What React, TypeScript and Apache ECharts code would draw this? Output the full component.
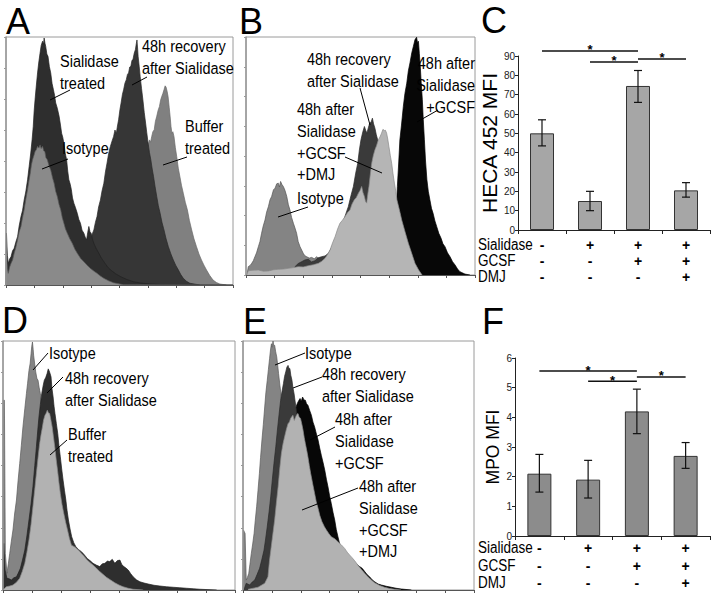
import React, { useEffect, useRef } from "react";
import * as echarts from "echarts";

const FONT = "'Liberation Sans', Arial, Helvetica, sans-serif";

// ---------- Bar panels (C, F) ----------
const conditions = ["Sialidase", "GCSF", "DMJ"];
const groupFlags = [
  ["-", "-", "-"],
  ["+", "-", "-"],
  ["+", "+", "-"],
  ["+", "+", "+"],
];
const hecaMean = [50, 15, 74.5, 20.5];
const hecaLow = [43.5, 10, 66, 17];
const hecaHigh = [57, 20, 82.5, 24.5];
const hecaSig = [
  [0, 2, 92.6],
  [1, 2, 86.9],
  [2, 3, 88.5],
];
const mpoMean = [2.1, 1.9, 4.2, 2.7];
const mpoLow = [1.48, 1.28, 3.45, 2.28];
const mpoHigh = [2.75, 2.55, 4.95, 3.15];
const mpoSig = [
  [0, 2, 5.56],
  [1, 2, 5.22],
  [2, 3, 5.36],
];

// ---------- Histogram panels (x: channel %, y: % of max count) ----------
const aSialidase = [[0,0],[0.2,20.9],[0.6,12],[1.0,8.7],[1.6,10.5],[2.2,11.4],[2.9,13.8],[3.6,14.8],[4.3,17.2],[5.1,19.5],[5.8,23.8],[6.6,27.6],[7.3,30.1],[8.0,34.3],[8.7,37.5],[9.5,42.4],[10.2,47.8],[10.9,53.2],[11.5,58.6],[12.0,63.9],[12.4,70.1],[12.8,74.7],[13.3,79.8],[13.9,85.5],[14.4,89.5],[15.0,93.5],[15.5,96.6],[16.1,98.3],[16.5,97.1],[16.8,99.6],[17.2,97.4],[17.5,96.2],[18.0,93.1],[18.5,92.2],[19.1,88.1],[19.7,85.5],[20.3,81.2],[20.9,78.7],[21.4,76.5],[21.9,73.4],[22.6,71.3],[23.4,68.0],[24.0,64.5],[24.5,61.2],[25.0,59.6],[25.5,57.2],[26.1,53.1],[26.7,50.5],[27.2,45.9],[27.7,42.4],[28.3,40.6],[28.8,38.4],[29.3,35.1],[29.9,33.0],[30.6,31.2],[31.4,28.9],[32.1,26.4],[32.8,24.9],[33.5,22.1],[34.3,20.9],[34.9,19.3],[35.5,18.2],[36.0,21.2],[36.5,23.6],[37.0,21.5],[37.5,20.9],[38.1,18.4],[38.7,16.8],[39.8,14.6],[40.9,12.8],[42.0,10.9],[43.1,9.4],[44.6,7.5],[46.0,6.1],[48.2,4.6],[50.4,3.4],[53.3,2.2],[56.2,1.3],[60,0.7],[63.5,0.4],[70,0.1],[100,0]];
const aIsotype = [[0,0],[0.2,12.8],[0.6,6.5],[1.0,4.7],[1.6,7.2],[2.2,8.7],[2.9,10.1],[3.6,12.8],[4.3,15.0],[5.1,18.2],[5.8,21.4],[6.6,23.6],[7.3,27.2],[8.0,30.3],[8.8,34.9],[9.5,38.4],[10.1,41.9],[10.7,45.1],[11.2,48.4],[11.7,50.5],[12.3,52.2],[12.8,53.8],[13.4,54.6],[13.9,55.9],[14.5,55.2],[15.0,56.5],[15.5,55.0],[16.1,55.9],[16.6,54.1],[17.1,53.8],[17.6,51.3],[18.2,50.5],[19.0,47.9],[19.7,46.4],[20.5,43.2],[21.2,41.0],[21.9,37.7],[22.6,35.7],[23.4,32.4],[24.1,30.3],[24.8,27.1],[25.5,24.9],[26.2,22.6],[27.0,20.9],[28.1,18.6],[29.2,16.8],[30.3,14.5],[31.4,12.8],[32.9,10.7],[34.3,9.4],[35.8,7.9],[37.2,6.7],[38.7,5.6],[40.1,4.7],[41.6,3.6],[43.1,2.7],[45.2,1.7],[47.4,0.9],[51.8,0.1],[100,0]];
const aRecovery = [[30.5,0],[31.4,0.8],[32.5,2.6],[33.6,4.7],[34.3,6.9],[35.0,8.7],[35.5,11.2],[36.1,12.8],[36.7,15.9],[37.2,18.2],[38.0,20.6],[38.7,22.2],[39.4,25.3],[40.1,27.6],[40.8,31.5],[41.6,34.3],[42.3,37.9],[43.1,41.0],[43.8,45.6],[44.5,49.1],[45.2,52.9],[46.0,55.9],[46.7,58.0],[47.4,59.9],[48.0,62.5],[48.6,61.2],[49.1,64.1],[49.6,66.6],[50.2,70.8],[50.7,73.4],[51.3,76.9],[51.8,78.7],[52.4,81.4],[53.0,82.8],[53.5,84.9],[54.0,85.5],[54.5,87.9],[55.0,88.2],[55.5,90.6],[55.9,90.8],[56.5,93.5],[57.0,94.9],[57.4,97.3],[57.7,98.8],[58.0,95.1],[58.2,92.2],[58.7,88.0],[59.1,84.1],[59.7,79.3],[60.3,74.7],[60.9,69.6],[61.5,65.3],[62.0,61.5],[62.6,57.2],[63.2,53.4],[63.8,50.5],[64.4,46.8],[65.0,43.7],[65.7,39.5],[66.4,35.7],[67.1,32.0],[67.9,28.9],[68.7,25.3],[69.6,22.2],[70.5,18.7],[71.5,15.5],[72.6,12.6],[73.7,10.1],[74.8,7.9],[75.9,6.1],[77.0,4.2],[78.1,2.7],[79.5,1.5],[81.0,0.7],[85.4,0]];
const aBuffer = [[34.3,0],[38.0,1.2],[41.6,2.7],[44.5,4.8],[47.4,7.4],[50.4,12.0],[53.3,18.2],[55.5,24.5],[57.7,31.6],[59.2,38.5],[60.6,45.1],[61.3,49.8],[62.0,53.2],[62.6,56.5],[63.2,58.5],[63.7,57.6],[64.2,59.9],[64.7,61.8],[65.3,62.6],[65.8,65.9],[66.4,68.0],[67.0,70.4],[67.6,72.0],[68.1,74.5],[68.6,76.0],[69.1,77.2],[69.6,78.7],[70.1,80.3],[70.5,79.8],[71.0,78.0],[71.4,76.0],[71.9,71.6],[72.3,68.0],[72.7,63.8],[73.1,61.2],[73.5,61.8],[74.0,59.9],[74.6,55.4],[75.2,51.8],[75.9,47.1],[76.6,43.7],[77.3,40.2],[78.1,37.0],[79.0,33.3],[79.9,30.3],[80.8,26.0],[81.8,22.2],[82.8,18.6],[83.9,15.5],[85.0,12.5],[86.1,10.1],[87.2,8.0],[88.3,6.1],[89.7,3.9],[91.2,2.0],[92.7,1.0],[94.2,0.4],[97.1,0]];

const bGcsf = [[63.8,0],[64.5,6.0],[65.1,17.5],[65.6,27],[66.1,37.2],[66.7,47.5],[67.2,56.8],[67.9,63.0],[68.7,70.8],[69.4,76.3],[70.2,80.6],[70.9,85.8],[71.6,89.1],[72.4,93.4],[73.1,96.1],[73.8,98.9],[74.5,99.9],[74.9,97.6],[75.3,98.2],[75.7,93.0],[76.1,87.7],[76.5,81.0],[77.0,73.6],[77.4,65.5],[77.9,56.8],[78.4,47.9],[79.0,40.0],[79.6,35.2],[80.3,31.6],[81.0,28.0],[81.7,25.9],[82.5,22.7],[83.3,20.3],[84.2,17.5],[85.2,15.4],[86.0,13.1],[86.9,11.9],[88.0,9.3],[89.1,7.7],[90.2,5.6],[91.3,4.2],[92.4,2.5],[93.4,1.4],[95.6,0.4],[97.8,0]];
const bIsotype = [[0.4,0],[1.0,3.5],[1.8,4.0],[2.5,4.9],[3.2,6.0],[3.9,7.7],[4.6,9.3],[5.4,11.9],[6.1,14.1],[6.8,17.5],[7.5,20.5],[8.3,23.1],[9.0,26.4],[9.8,28.8],[10.5,31.6],[11.2,33.0],[12.0,35.8],[12.7,36.5],[13.4,38.3],[14.1,38.6],[14.6,37.0],[15.1,39.3],[15.7,38.0],[16.3,37.2],[17.0,35.6],[17.8,33.0],[18.5,29.5],[19.2,27.3],[19.9,24.2],[20.7,21.7],[21.4,19.7],[22.1,17.5],[22.8,14.0],[23.6,11.9],[24.3,10.5],[25.0,9.1],[25.7,8.1],[26.5,7.7],[27.6,7.1],[28.7,7.4],[29.8,6.8],[30.9,7.7],[32.0,6.7],[33.0,7.0],[34.1,5.6],[35.2,4.2],[36.7,3.0],[38.1,2.1],[40.0,1.3],[41.8,0.7],[44.7,0]];
const bRecovery = [[19.9,0],[21.4,3.5],[22.8,4.8],[24.3,5.6],[25.7,6.3],[27.2,6.6],[28.6,5.5],[30.1,6.0],[31.5,7.2],[33.0,7.7],[34.5,8.0],[36.0,9.1],[37.4,11.6],[38.9,14.7],[40.3,17.2],[41.8,20.3],[43.2,24.6],[44.7,28.8],[45.8,33.2],[46.9,37.2],[47.9,42.8],[48.8,47.0],[49.5,52.5],[50.2,56.8],[51.0,60.1],[51.7,62.4],[52.3,60.7],[52.8,59.6],[53.4,61.8],[54.0,63.8],[54.6,64.2],[55.2,65.9],[55.7,63.5],[56.3,61.7],[56.9,58.9],[57.5,56.8],[58.1,55.6],[58.7,54.0],[59.7,49.6],[60.7,45.6],[62.2,40.0],[63.6,34.4],[65.0,28.8],[66.5,23.1],[68.0,18.0],[69.4,13.3],[71.2,8.9],[73.1,4.9],[74.9,2.0],[76.7,0]];
const bDmj = [[0.3,0],[1.0,1.8],[3.2,2.0],[5.4,2.1],[7.6,1.6],[9.8,1.7],[12.0,2.2],[14.1,2.4],[16.3,2.5],[18.5,2.8],[20.7,3.1],[22.9,3.5],[25.0,3.4],[27.2,3.9],[29.4,4.3],[31.6,4.9],[33.1,5.8],[34.5,7.0],[35.6,8.6],[36.7,10.5],[37.8,13.5],[38.9,16.1],[40.0,19.3],[41.0,21.7],[42.1,23.0],[43.2,24.5],[44.3,26.2],[45.4,27.3],[46.3,29.8],[47.3,31.6],[48.2,32.6],[49.1,34.4],[49.8,35.5],[50.5,37.2],[51.1,34.6],[51.7,33.0],[52.2,30.9],[52.7,30.2],[53.2,34.0],[53.7,37.2],[54.3,42.4],[54.9,47.0],[55.6,50.2],[56.3,52.6],[57.0,54.3],[57.8,56.8],[58.5,58.0],[59.2,59.6],[59.8,61.2],[60.4,60.7],[60.9,60.8],[61.4,59.6],[61.9,57.1],[62.4,54.0],[63.0,50.3],[63.6,47.0],[64.2,42.5],[64.8,38.6],[65.4,35.2],[65.9,31.6],[67.0,27.3],[68.0,23.1],[69.5,18.0],[70.9,13.3],[72.4,9.0],[73.8,4.9],[75.4,2.1],[76.9,0]];

const dIsotype = [[0,0],[0.1,76.2],[0.6,76.2],[1.0,14.7],[1.7,6.7],[2.3,10.5],[2.9,14.7],[3.6,19.6],[4.3,24.1],[5.0,30.5],[5.8,36.1],[6.5,43.9],[7.2,50.8],[7.9,58.0],[8.6,65.5],[9.4,72.8],[10.1,78.9],[10.6,83.0],[11.2,88.2],[11.7,91.0],[12.1,94.9],[12.4,97.9],[12.7,99.6],[13.0,96.6],[13.2,94.3],[13.7,90.5],[14.1,87.6],[14.6,85.0],[15.1,84.2],[15.6,81.2],[16.1,78.9],[16.7,74.8],[17.3,70.9],[18.0,65.5],[18.7,60.2],[19.4,54.9],[20.1,49.5],[20.9,43.8],[21.6,38.8],[22.6,32.2],[23.7,26.7],[24.8,22.3],[25.9,18.7],[27.3,15.1],[28.8,12.0],[30.9,9.0],[33.1,6.7],[36.0,4.5],[38.8,2.7],[42.4,1.3],[46.0,0.5],[53.2,0]];
const dRecovery = [[0,0],[0.3,18.7],[0.9,8.0],[1.7,4.7],[2.6,4.5],[3.6,4.0],[4.7,4.9],[5.8,5.3],[6.6,6.8],[7.5,8.7],[8.4,12.0],[9.4,16.0],[10.3,21.7],[11.2,28.1],[12.1,34.6],[12.9,41.4],[13.7,50.0],[14.4,57.5],[15.0,64.3],[15.5,69.5],[16.1,74.5],[16.7,78.9],[17.3,82.0],[17.8,84.2],[18.4,85.3],[19.0,86.9],[19.5,88.8],[19.9,88.0],[20.3,86.9],[20.7,85.6],[21.1,81.0],[21.6,77.5],[22.0,73.8],[22.4,70.9],[23.0,66.8],[23.6,62.8],[24.1,58.1],[24.7,53.5],[25.3,48.6],[25.9,44.1],[26.5,40.0],[27.1,36.1],[27.6,32.0],[28.2,28.1],[28.9,24.5],[29.6,21.4],[30.5,19.0],[31.4,17.4],[32.6,16.2],[33.8,15.4],[35.0,14.2],[36.3,12.7],[37.5,11.8],[38.8,10.7],[40.2,10.0],[41.7,9.4],[42.8,10.5],[43.9,10.7],[45.0,11.6],[46.0,11.4],[47.1,12.3],[48.2,10.7],[49.3,11.8],[50.4,12.0],[51.2,10.2],[52.1,9.4],[53.0,8.8],[54.0,8.0],[55.0,6.6],[56.1,5.3],[57.5,4.1],[59.0,3.3],[60.8,2.8],[62.6,2.4],[65.1,1.9],[67.6,1.6],[70.5,1.3],[73.4,1.1],[76.2,0.9],[79.1,0.7],[82.0,0.5],[84.9,0.3],[92.1,0]];
const dBuffer = [[0,0],[1.4,1.3],[2.9,1.6],[4.3,2.0],[5.8,3.1],[7.2,4.7],[8.3,7.4],[9.4,10.7],[10.3,15.1],[11.2,20.1],[12.1,26.4],[12.9,33.4],[13.7,40.5],[14.4,46.8],[15.1,53.0],[15.8,58.8],[16.4,62.4],[17.0,65.5],[17.5,68.3],[18.1,70.2],[18.6,71.0],[19.1,72.2],[19.6,71.1],[20.1,70.9],[20.6,68.5],[21.2,65.5],[21.7,61.8],[22.3,57.5],[22.9,52.6],[23.5,48.1],[24.1,43.2],[24.7,38.8],[25.4,34.5],[26.2,30.7],[27.0,27.2],[27.8,24.1],[28.6,20.8],[29.5,18.0],[30.6,17.5],[31.7,16.7],[32.7,15.9],[33.8,14.7],[35.0,13.5],[36.3,12.0],[37.5,11.0],[38.8,10.0],[40.2,8.8],[41.7,7.4],[43.1,6.3],[44.6,5.1],[46.4,4.0],[48.2,2.9],[50.0,2.0],[51.8,1.3],[54.0,0.7],[56.1,0.3],[60.4,0]];

const eGcsf = [[9.4,0],[11.5,4.5],[13.7,9.4],[15.2,19.0],[16.6,29.4],[18.0,40.5],[19.5,52.1],[20.8,62.0],[22.1,70.9],[22.8,73.1],[23.5,74.9],[24.1,76.0],[24.7,76.9],[25.2,75.8],[25.8,77.5],[26.4,76.3],[27.0,76.2],[27.5,74.8],[28.1,74.2],[28.9,72.0],[29.6,70.2],[30.3,67.4],[31.0,65.5],[31.8,62.6],[32.5,60.2],[33.2,57.0],[33.9,54.1],[34.7,51.0],[35.4,48.1],[36.1,44.5],[36.8,41.4],[37.5,37.8],[38.2,34.8],[39.0,31.0],[39.7,28.1],[40.4,24.2],[41.1,21.4],[41.8,18.7],[42.6,16.7],[43.4,15.4],[44.3,14.0],[45.2,13.6],[46.2,12.7],[47.2,11.2],[48.3,10.7],[49.4,10.2],[50.5,9.4],[51.6,8.7],[52.7,7.4],[53.8,6.1],[54.8,5.3],[55.9,4.1],[57.0,3.3],[58.5,2.4],[59.9,2.0],[62.0,1.5],[64.2,1.1],[66.3,0.7],[68.5,0.4],[72.9,0]];
const eIsotype = [[0,0],[0.2,24.1],[0.9,22.7],[1.4,4.0],[1.9,5.0],[2.5,6.7],[3.0,10.3],[3.6,14.7],[4.2,18.5],[4.8,22.7],[5.3,27.8],[5.9,33.4],[6.5,40.0],[7.1,46.8],[7.6,53.2],[8.2,60.2],[8.8,66.5],[9.4,73.5],[9.9,79.2],[10.5,84.2],[11.0,88.6],[11.5,92.9],[11.9,96.4],[12.3,98.9],[12.6,97.5],[13.0,100],[13.3,98.1],[13.7,98.3],[14.1,95.9],[14.6,93.6],[15.0,90.4],[15.4,86.9],[16.0,82.0],[16.6,77.5],[17.3,71.4],[18.0,65.5],[18.7,59.5],[19.5,53.5],[20.4,47.2],[21.2,41.4],[22.1,35.8],[23.1,30.7],[24.2,25.9],[25.3,21.4],[26.7,17.2],[28.1,13.4],[30.3,9.9],[32.5,6.7],[35.3,4.1],[38.2,2.0],[41.1,0.8],[44.0,0]];
const eRecovery = [[0.4,0],[1.4,2.7],[2.9,2.0],[4.0,3.2],[5.1,4.0],[6.1,6.2],[7.2,8.7],[8.1,12.0],[9.1,16.0],[9.8,20.5],[10.5,25.4],[11.3,31.5],[12.0,37.4],[12.7,44.3],[13.4,50.8],[14.2,57.6],[14.9,64.2],[15.6,70.4],[16.3,76.2],[16.9,79.8],[17.5,82.9],[18.0,85.8],[18.5,87.6],[19.0,89.5],[19.5,90.2],[19.9,89.0],[20.3,88.9],[20.7,86.2],[21.2,84.2],[21.6,81.3],[22.1,78.9],[22.6,75.5],[23.1,72.2],[24.5,62.8],[26.7,49.5],[29.6,36.1],[33.9,22.7],[39.7,10.7],[46.9,2.7],[54.1,0]];
const eDmj = [[2.2,0.3],[6.5,1.1],[9.4,2.7],[10.8,5.3],[11.5,12.0],[12.6,20.1],[13.7,28.1],[14.4,34.5],[15.2,41.4],[15.9,48.6],[16.6,54.8],[17.3,58.6],[18.0,61.5],[18.8,64.6],[19.5,66.8],[20.1,67.5],[20.6,68.9],[21.1,69.6],[21.6,70.2],[22.2,68.1],[22.7,69.3],[23.3,70.5],[23.8,70.9],[24.3,69.5],[24.9,68.9],[25.5,66.5],[26.0,64.2],[26.5,61.2],[27.0,58.8],[27.6,56.0],[28.1,53.5],[28.7,50.0],[29.3,46.8],[30.2,42.5],[31.0,38.8],[31.7,35.5],[32.5,32.8],[33.3,29.8],[34.2,27.4],[35.2,25.5],[36.1,24.1],[37.2,22.6],[38.2,21.4],[39.7,20.6],[41.1,19.4],[42.5,18.2],[44.0,16.7],[45.1,15.2],[46.2,14.0],[47.2,13.0],[48.3,11.8],[49.8,9.9],[51.2,8.3],[52.7,6.7],[54.1,5.3],[55.6,4.0],[57.0,2.9],[59.2,1.8],[61.3,1.1],[63.5,0.6],[65.7,0.3],[68.5,0]];

// ---------- helpers ----------
const area = (gi: number, data: number[][], color: string, edge: string, z: number) => ({
  type: "line",
  xAxisIndex: gi,
  yAxisIndex: gi,
  data,
  z,
  symbol: "none",
  showSymbol: false,
  silent: true,
  lineStyle: { color: edge, width: 0.7 },
  areaStyle: { color, opacity: 1 },
});

const histX = (gi: number) => ({
  type: "value",
  gridIndex: gi,
  min: 0,
  max: 100,
  interval: 12.5,
  z: 20,
  axisLine: { show: true, lineStyle: { color: "#555", width: 1 } },
  axisTick: { show: true, length: 3, lineStyle: { color: "#555" } },
  axisLabel: { show: false },
  splitLine: { show: false },
});
const histY = (gi: number) => ({
  type: "value",
  gridIndex: gi,
  min: 0,
  max: 100,
  interval: 12.5,
  z: 20,
  axisLine: { show: true, lineStyle: { color: "#999", width: 1.5 } },
  axisTick: { show: true, length: 2, lineStyle: { color: "#999" } },
  axisLabel: { show: false },
  splitLine: { show: false },
});

const flagLabels = groupFlags.map((f) => f.join("\n"));

const barX = (gi: number, lh: number, margin: number) => ({
  type: "category",
  gridIndex: gi,
  data: flagLabels,
  axisLine: { show: true, lineStyle: { color: "#222", width: 1 } },
  axisTick: { show: true, length: 4, lineStyle: { color: "#222" } },
  axisLabel: {
    color: "#000",
    fontSize: 14,
    fontWeight: "bold",
    fontFamily: FONT,
    lineHeight: lh,
    margin,
  },
});
const barY = (gi: number, max: number, interval: number, name: string, nameSize: number, nameGap: number) => ({
  type: "value",
  gridIndex: gi,
  min: 0,
  max,
  interval,
  axisLine: { show: true, lineStyle: { color: "#222", width: 1 } },
  axisTick: { show: true, length: 3, lineStyle: { color: "#222" } },
  axisLabel: { fontSize: 10, color: "#222", margin: 3, fontFamily: FONT },
  splitLine: { show: false },
  name,
  nameLocation: "middle",
  nameGap,
  nameTextStyle: { fontSize: nameSize, color: "#000", fontFamily: FONT },
});

const errorSeries = (gi: number, low: number[], high: number[]) => ({
  type: "custom",
  xAxisIndex: gi,
  yAxisIndex: gi,
  silent: true,
  z: 5,
  data: low.map((l, i) => [i, l, high[i]]),
  encode: { x: 0, y: [1, 2] },
  renderItem: (params: any, api: any) => {
    const p1 = api.coord([api.value(0), api.value(1)]);
    const p2 = api.coord([api.value(0), api.value(2)]);
    const w = 4;
    const st = { stroke: "#111", lineWidth: 1.2 };
    return {
      type: "group",
      children: [
        { type: "line", shape: { x1: p1[0], y1: p1[1], x2: p2[0], y2: p2[1] }, style: st },
        { type: "line", shape: { x1: p1[0] - w, y1: p1[1], x2: p1[0] + w, y2: p1[1] }, style: st },
        { type: "line", shape: { x1: p2[0] - w, y1: p2[1], x2: p2[0] + w, y2: p2[1] }, style: st },
      ],
    };
  },
});

const sigSeries = (gi: number, sig: number[][]) => ({
  type: "custom",
  xAxisIndex: gi,
  yAxisIndex: gi,
  silent: true,
  clip: false,
  z: 6,
  data: sig,
  encode: { x: [0, 1], y: 2 },
  renderItem: (params: any, api: any) => {
    const p1 = api.coord([api.value(0), api.value(2)]);
    const p2 = api.coord([api.value(1), api.value(2)]);
    return {
      type: "group",
      children: [
        { type: "line", shape: { x1: p1[0], y1: p1[1], x2: p2[0], y2: p2[1] }, style: { stroke: "#111", lineWidth: 1.5 } },
        {
          type: "text",
          x: (p1[0] + p2[0]) / 2,
          y: p1[1] - 1,
          style: { text: "*", fontSize: 13, fontWeight: "bold", fontFamily: FONT, fill: "#000", align: "center", verticalAlign: "middle" },
        },
      ],
    };
  },
});

// ---------- annotations ----------
const note = (text: string, x: number, y: number, align = "left") => ({
  type: "text",
  x,
  y,
  scaleY: 1.17,
  z: 100,
  style: { text, fill: "#000", fontSize: 14.5, fontFamily: FONT, lineHeight: 18.5, align, verticalAlign: "top" },
});
const pointer = (x1: number, y1: number, x2: number, y2: number) => ({
  type: "line",
  z: 100,
  shape: { x1, y1, x2, y2 },
  style: { stroke: "#000", lineWidth: 1 },
});
const letter = (text: string, x: number, y: number) => ({
  type: "text",
  x,
  y,
  z: 100,
  style: { text, fill: "#000", fontSize: 36, fontFamily: FONT, align: "left", verticalAlign: "top" },
});
const rowLabel = (text: string, x: number, y: number) => ({
  type: "text",
  x,
  y,
  scaleY: 1.2,
  z: 100,
  style: { text, fill: "#000", fontSize: 13.5, fontFamily: FONT, align: "left", verticalAlign: "middle" },
});

const graphics = [
  letter("A", 6, 3),
  letter("B", 239, 3),
  letter("C", 481, 2),
  letter("D", 2, 302),
  letter("E", 243, 303),
  letter("F", 482, 303),
  // A
  note("Sialidase\ntreated", 60, 50.5),
  pointer(70, 90, 50, 100),
  note("Isotype", 62, 137.5),
  pointer(68, 159, 42, 169),
  note("48h recovery\nafter Sialidase", 142, 35.5),
  pointer(147, 77, 132, 85),
  note("Buffer\ntreated", 185, 115.5),
  pointer(187, 157, 163, 165),
  // B
  note("48h recovery\nafter Sialidase", 307, 48.5),
  pointer(360, 88, 370, 125),
  note("48h after\nSialidase\n+GCSF\n+DMJ", 297, 98.5),
  pointer(345, 157, 382, 173),
  note("Isotype", 297, 187.5),
  pointer(308, 207, 278, 217),
  note("48h after\nSialidase\n+GCSF", 475, 52.5, "right"),
  pointer(438, 110, 417, 122),
  // D
  note("Isotype", 49, 342.5),
  pointer(48, 353, 33, 370),
  note("48h recovery\nafter Sialidase", 65, 367.5),
  pointer(63, 377, 47, 393),
  note("Buffer\ntreated", 68, 423.5),
  pointer(67, 440, 50, 455),
  // E
  note("Isotype", 305, 342.5),
  pointer(305, 353, 275, 365),
  note("48h recovery\nafter Sialidase", 322, 363.5),
  pointer(322, 377, 293, 388),
  note("48h after\nSialidase\n+GCSF", 335, 408.5),
  pointer(335, 427, 310, 440),
  note("48h after\nSialidase\n+GCSF\n+DMJ", 359, 475.5),
  pointer(358, 488, 302, 510),
  // condition rows
  rowLabel(conditions[0], 478, 245),
  rowLabel(conditions[1], 478, 261),
  rowLabel(conditions[2], 478, 277),
  rowLabel(conditions[0], 478, 548),
  rowLabel(conditions[1], 478, 565.5),
  rowLabel(conditions[2], 478, 583),
];

const histGrid = { show: true, borderColor: "#9a9a9a", borderWidth: 1, backgroundColor: "transparent" };

const option = {
  animation: false,
  backgroundColor: "#fff",
  textStyle: { fontFamily: FONT },
  grid: [
    { left: 6, top: 37, width: 227, height: 248, ...histGrid },
    { left: 246, top: 37, width: 229, height: 238, ...histGrid },
    { left: 518, top: 56, width: 192, height: 174 },
    { left: 3, top: 341, width: 232, height: 249, ...histGrid },
    { left: 243, top: 341, width: 231, height: 249, ...histGrid },
    { left: 515, top: 358, width: 195, height: 178 },
  ],
  xAxis: [histX(0), histX(1), barX(2, 16, 7), histX(3), histX(4), barX(5, 17.5, 3.5)],
  yAxis: [
    histY(0),
    histY(1),
    barY(2, 90, 10, "HECA 452 MFI", 21, 17),
    histY(3),
    histY(4),
    barY(5, 6, 1, "MPO MFI", 17.5, 13),
  ],
  series: [
    // A (back to front)
    area(0, aBuffer, "#808080", "#6a6a6a", 2),
    area(0, aRecovery, "#363636", "#2a2a2a", 3),
    area(0, aSialidase, "#2e2e2e", "#222", 4),
    area(0, aIsotype, "#8a8a8a", "#5a5a5a", 5),
    // B
    area(1, bGcsf, "#070707", "#000", 2),
    area(1, bIsotype, "#848484", "#555", 3),
    area(1, bRecovery, "#3a3a3a", "#2a2a2a", 4),
    area(1, bDmj, "#b5b5b5", "#8a8a8a", 5),
    // C
    {
      type: "bar",
      xAxisIndex: 2,
      yAxisIndex: 2,
      data: hecaMean,
      barWidth: 24,
      silent: true,
      itemStyle: { color: "#a6a6a6", borderColor: "#333", borderWidth: 1 },
    },
    errorSeries(2, hecaLow, hecaHigh),
    sigSeries(2, hecaSig),
    // D
    area(3, dIsotype, "#848484", "#5a5a5a", 2),
    area(3, dRecovery, "#2e2e2e", "#222", 3),
    area(3, dBuffer, "#b2b2b2", "#8a8a8a", 4),
    // E
    area(4, eGcsf, "#070707", "#000", 2),
    area(4, eIsotype, "#848484", "#5a5a5a", 3),
    area(4, eRecovery, "#3a3a3a", "#2a2a2a", 4),
    area(4, eDmj, "#b2b2b2", "#8a8a8a", 5),
    // F
    {
      type: "bar",
      xAxisIndex: 5,
      yAxisIndex: 5,
      data: mpoMean,
      barWidth: 24,
      silent: true,
      itemStyle: { color: "#8c8c8c", borderColor: "#333", borderWidth: 1 },
    },
    errorSeries(5, mpoLow, mpoHigh),
    sigSeries(5, mpoSig),
  ],
  graphic: graphics,
};

export default function App() {
  const ref = useRef<HTMLDivElement>(null);
  useEffect(() => {
    if (!ref.current) return;
    const chart = echarts.init(ref.current, null, { renderer: "svg" });
    chart.setOption(option as any);
    return () => chart.dispose();
  }, []);
  return (
    <div
      ref={ref}
      style={{ position: "absolute", left: 0, top: 0, width: 717, height: 596, background: "#fff" }}
    />
  );
}
